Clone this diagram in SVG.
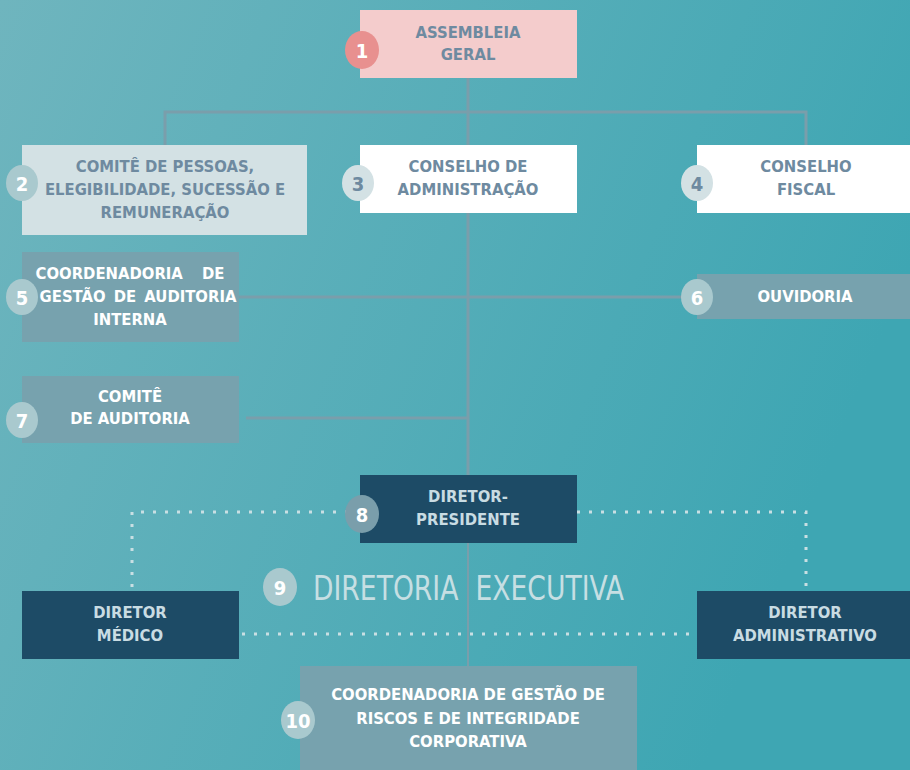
<svg xmlns="http://www.w3.org/2000/svg" width="910" height="770" viewBox="0 0 910 770">
<defs>
<linearGradient id="bg" x1="0" y1="0" x2="1" y2="0.35">
<stop offset="0" stop-color="#6fb5be"/>
<stop offset="1" stop-color="#3ea6b3"/>
</linearGradient>
<style>
.t{font-family:"Liberation Sans Narrow","DejaVu Sans Condensed","Liberation Sans",sans-serif;font-stretch:condensed;font-weight:bold;font-size:16.5px;text-anchor:middle}
.g{fill:#6e8aa0}
.w{fill:#ffffff}
.b{font-family:"Liberation Sans Narrow","DejaVu Sans Condensed","Liberation Sans",sans-serif;font-stretch:condensed;font-weight:bold;font-size:20px;text-anchor:middle;dominant-baseline:central}
.ln{stroke:#7a9eab;stroke-width:3;fill:none}
.ln2{stroke:#7a9eab;stroke-width:2;fill:none}
.dot{stroke:#c9dfe3;stroke-width:3;fill:none;stroke-dasharray:3 9}
</style>
</defs>
<rect width="910" height="770" fill="url(#bg)"/>
<g id="connectors">
<path class="ln" d="M468 78V475M165 145V112H806V145"/>
<path class="ln2" d="M468 543V666"/>
<path class="ln" d="M239 297H697M246 418H468"/>
<path class="dot" d="M360 512H132V590M577 512H806V590M242 634H697"/>
</g>
<g id="n1"><rect x="360" y="10" width="217" height="68" fill="#f4cccc"/><text class="t g" x="468" y="38">ASSEMBLEIA</text><text class="t g" x="468" y="60">GERAL</text><ellipse cx="362" cy="50" rx="17" ry="19" fill="#e8908f"/><text class="b w" x="362" y="51">1</text></g>
<g id="n2"><rect x="22" y="145" width="285" height="90" fill="#d3e1e4"/><text class="t g" x="165" y="172">COMITÊ DE PESSOAS,</text><text class="t g" x="165" y="195">ELEGIBILIDADE, SUCESSÃO E</text><text class="t g" x="165" y="218">REMUNERAÇÃO</text><ellipse cx="22" cy="183" rx="16" ry="18" fill="#a9c9ce"/><text class="b w" x="22" y="184">2</text></g>
<g id="n3"><rect x="360" y="145" width="217" height="68" fill="#ffffff"/><text class="t g" x="468" y="172">CONSELHO DE</text><text class="t g" x="468" y="195">ADMINISTRAÇÃO</text><ellipse cx="358" cy="183" rx="16" ry="18" fill="#d3e1e4"/><text class="b g" x="358" y="184">3</text></g>
<g id="n4"><rect x="697" y="145" width="213" height="68" fill="#ffffff"/><text class="t g" x="806" y="172">CONSELHO</text><text class="t g" x="806" y="195">FISCAL</text><ellipse cx="697" cy="183" rx="16" ry="18" fill="#d3e1e4"/><text class="b g" x="697" y="184">4</text></g>
<g id="n5"><rect x="22" y="252" width="217" height="90" fill="#77a2ae"/><text class="t w" x="130" y="279" word-spacing="14">COORDENADORIA DE</text><text class="t w" x="138" y="302" word-spacing="3">GESTÃO DE AUDITORIA</text><text class="t w" x="130" y="325">INTERNA</text><ellipse cx="22" cy="297" rx="16" ry="18" fill="#a9c9ce"/><text class="b w" x="22" y="298">5</text></g>
<g id="n6"><rect x="697" y="274" width="213" height="45" fill="#77a2ae"/><text class="t w" x="805" y="302">OUVIDORIA</text><ellipse cx="697" cy="297" rx="16" ry="18" fill="#a9c9ce"/><text class="b w" x="697" y="298">6</text></g>
<g id="n7"><rect x="22" y="376" width="217" height="67" fill="#77a2ae"/><text class="t w" x="130" y="402">COMITÊ</text><text class="t w" x="130" y="424">DE AUDITORIA</text><ellipse cx="22" cy="420" rx="16" ry="18" fill="#a9c9ce"/><text class="b w" x="22" y="421">7</text></g>
<g id="n8"><rect x="360" y="475" width="217" height="68" fill="#1d4b66"/><text class="t" x="468" y="502" fill="#c9dce3">DIRETOR-</text><text class="t" x="468" y="525" fill="#c9dce3">PRESIDENTE</text><ellipse cx="362" cy="514" rx="17" ry="19" fill="#7a9eab"/><text class="b w" x="362" y="515">8</text></g>
<g id="n9"><ellipse cx="280" cy="587" rx="17" ry="19" fill="#a9c9ce"/><text class="b w" x="280" y="588">9</text><text x="313" y="600" fill="#c6dfe3" font-family="'Liberation Sans Narrow','DejaVu Sans Condensed','Liberation Sans',sans-serif" font-stretch="condensed" font-size="34" textLength="311" lengthAdjust="spacingAndGlyphs" word-spacing="10">DIRETORIA EXECUTIVA</text></g>
<g id="n11"><rect x="22" y="591" width="217" height="68" fill="#1d4b66"/><text class="t" x="130" y="618" fill="#c9dce3">DIRETOR</text><text class="t" x="130" y="641" fill="#c9dce3">MÉDICO</text></g>
<g id="n12"><rect x="697" y="591" width="213" height="68" fill="#1d4b66"/><text class="t" x="805" y="618" fill="#c9dce3">DIRETOR</text><text class="t" x="805" y="641" fill="#c9dce3">ADMINISTRATIVO</text></g>
<g id="n10"><rect x="300" y="666" width="337" height="104" fill="#77a2ae"/><text class="t w" x="468" y="700">COORDENADORIA DE GESTÃO DE</text><text class="t w" x="468" y="724">RISCOS E DE INTEGRIDADE</text><text class="t w" x="468" y="747">CORPORATIVA</text><ellipse cx="298" cy="720" rx="17" ry="19" fill="#a9c9ce"/><text class="b w" x="298" y="721">10</text></g>
</svg>
